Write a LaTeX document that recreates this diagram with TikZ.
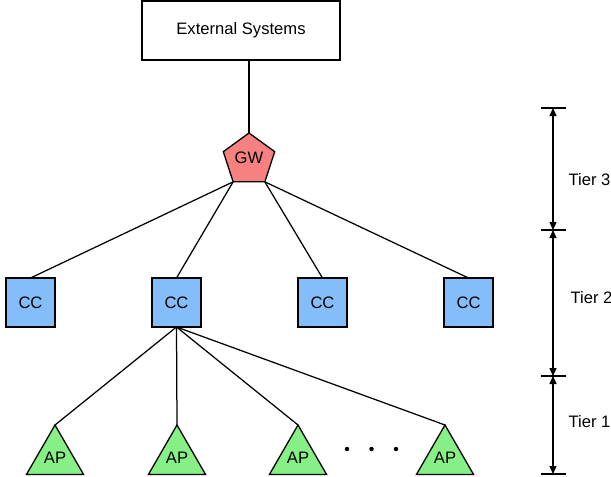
\documentclass[tikz,border=0pt]{standalone}
\usepackage{fontspec}
\setmainfont{Liberation Sans}
\usetikzlibrary{shapes.geometric,arrows.meta}
\definecolor{gwred}{HTML}{F78181}
\definecolor{ccblue}{HTML}{83BEFB}
\definecolor{apgreen}{HTML}{86EF86}
\begin{document}
\begin{tikzpicture}[x=1pt, y=-1pt, line width=1.3pt,
  font=\fontsize{16.6}{19}\selectfont,
  extbox/.style={draw, minimum width=198pt, minimum height=59pt, inner sep=0pt, outer sep=0pt},
  gwnode/.style={regular polygon, regular polygon sides=5, minimum size=54pt,
    draw, fill=gwred, inner sep=0pt, outer sep=0pt},
  ccnode/.style={draw, fill=ccblue, minimum size=49pt, inner sep=0pt, outer sep=0pt},
  apnode/.style={regular polygon, regular polygon sides=3, minimum size=66pt,
    draw, fill=apgreen, inner sep=0pt, outer sep=0pt},
  link/.style={line width=1.25pt},
  dotnode/.style={circle, fill=black, inner sep=0pt, minimum size=4.5pt},
  tick/.style={line width=1.25pt},
  tierarrow/.style={line width=1.25pt, {Triangle[length=8pt,width=7pt]}-{Triangle[length=8pt,width=7pt]}},
  tierlabel/.style={anchor=west, inner sep=0pt}]
\useasboundingbox (0,0) rectangle (611,477);

% top level
\node[extbox] (ext) at (241,30.5) {External Systems};
\node[gwnode] (gw) at (249,160) {\raisebox{4pt}{GW}};

% tier 2 controllers
\node[ccnode] (cc1) at (30.5,302.5) {CC};
\node[ccnode] (cc2) at (176.5,302.5) {CC};
\node[ccnode] (cc3) at (322.5,302.5) {CC};
\node[ccnode] (cc4) at (468.5,302.5) {CC};

% tier 1 access points
\node[apnode] (ap1) at (55,458) {AP};
\node[apnode] (ap2) at (177,458) {AP};
\node[apnode] (ap3) at (298,458) {AP};
\node[apnode] (ap4) at (445,458) {AP};
\node[dotnode] (d1) at (347,449) {};
\node[dotnode] (d2) at (371.5,449) {};
\node[dotnode] (d3) at (396,449) {};

% connections
\draw[link] (ext.south -| gw.corner 1) -- (gw.corner 1);
\draw[link] (gw.corner 3) -- (cc1.north);
\draw[link] (gw.corner 3) -- (cc2.north);
\draw[link] (gw.corner 4) -- (cc3.north);
\draw[link] (gw.corner 4) -- (cc4.north);
\draw[link] (cc2.south) -- (ap1.corner 1);
\draw[link] (cc2.south) -- (ap2.corner 1);
\draw[link] (cc2.south) -- (ap3.corner 1);
\draw[link] (cc2.south) -- (ap4.corner 1);

% tier scale
\coordinate (s0) at (553,108);
\coordinate (s1) at (553,230);
\coordinate (s2) at (553,376);
\coordinate (s3) at (553,474);
\foreach \s in {s0,s1,s2,s3}
  \draw[tick] ([xshift=-12pt]\s) -- ([xshift=13pt]\s);
\draw[tierarrow] (s0) -- (s1);
\draw[tierarrow] (s1) -- (s2);
\draw[tierarrow] (s2) -- (s3);
\node[tierlabel] (tier3) at (568,180) {Tier 3};
\node[tierlabel] (tier2) at (570,298) {Tier 2};
\node[tierlabel] (tier1) at (568,422) {Tier 1};
\end{tikzpicture}
\end{document}
